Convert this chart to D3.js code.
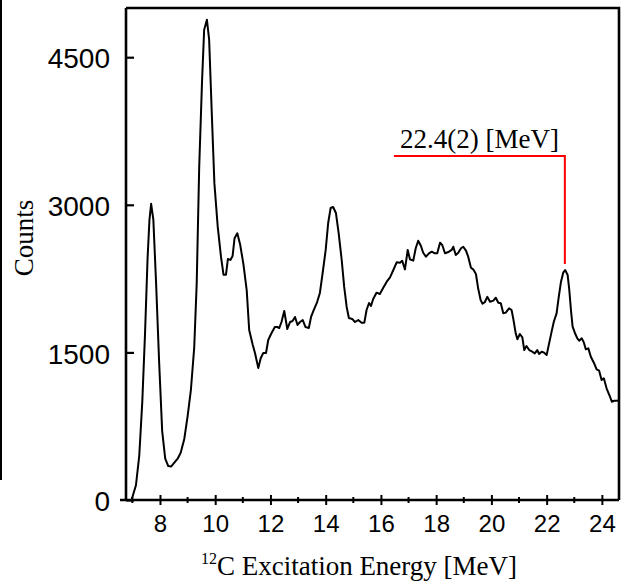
<!DOCTYPE html>
<html>
<head>
<meta charset="utf-8">
<script src="https://cdn.jsdelivr.net/npm/d3@7"></script>
<style>
    body { margin: 0; background: #fff; }
    svg { display: block; }
</style>
</head>
<body>
<svg></svg>
<script>
// excitation energy [MeV] and counts
let energy = [6.97, 7.13, 7.25, 7.36, 7.46, 7.55, 7.62, 7.68, 7.76, 7.86, 7.97, 8.08, 8.19, 8.30, 8.40,
    8.52, 8.64, 8.75, 8.88, 9.00, 9.12, 9.24, 9.33, 9.42, 9.52, 9.60, 9.70, 9.78, 9.88, 9.97,
    10.09, 10.21, 10.30, 10.39, 10.46, 10.55, 10.63, 10.70, 10.80, 10.90, 11.02, 11.14, 11.23, 11.36, 11.44,
    11.56, 11.65, 11.74, 11.84, 11.92, 12.04, 12.16, 12.25, 12.32, 12.40, 12.50, 12.61, 12.71, 12.80, 12.89,
    12.98, 13.07, 13.17, 13.27, 13.39, 13.47, 13.57, 13.69, 13.79, 13.89, 14.00, 14.09, 14.18, 14.27, 14.37,
    14.47, 14.58, 14.67, 14.76, 14.84, 14.96, 15.06, 15.18, 15.30, 15.40, 15.48, 15.57, 15.64, 15.72, 15.84,
    15.96, 16.08, 16.21, 16.33, 16.45, 16.57, 16.69, 16.77, 16.87, 16.97, 17.05, 17.17, 17.26, 17.35, 17.45,
    17.53, 17.63, 17.74, 17.84, 17.95, 18.04, 18.14, 18.22, 18.32, 18.44, 18.56, 18.62, 18.71, 18.80, 18.90,
    18.98, 19.08, 19.16, 19.26, 19.34, 19.44, 19.52, 19.61, 19.68, 19.76, 19.85, 19.95, 20.07, 20.16, 20.25,
    20.34, 20.43, 20.52, 20.64, 20.73, 20.79, 20.88, 20.94, 21.03, 21.12, 21.19, 21.27, 21.37, 21.48, 21.57,
    21.66, 21.73, 21.82, 21.91, 22.00, 22.09, 22.18, 22.26, 22.36, 22.44, 22.52, 22.60, 22.67, 22.76, 22.82,
    22.88, 22.94, 23.02, 23.11, 23.18, 23.27, 23.35, 23.42, 23.51, 23.60, 23.71, 23.81, 23.90, 23.99, 24.07,
    24.17, 24.27, 24.36, 24.45, 24.55, 24.62];
let counts = [0, 150, 450, 1000, 1700, 2450, 2850, 3010, 2850, 2200, 1400, 700, 420, 345, 340,
    380, 420, 480, 620, 850, 1120, 1550, 2200, 3380, 4230, 4780, 4880, 4680, 3900, 3220,
    2780, 2470, 2290, 2290, 2450, 2440, 2480, 2660, 2710, 2600, 2400, 2134, 1728, 1575, 1494,
    1342, 1443, 1494, 1494, 1626, 1697, 1758, 1758, 1748, 1809, 1921, 1738, 1809, 1819, 1860,
    1779, 1809, 1829, 1758, 1748, 1860, 1931, 2012, 2104, 2307, 2541, 2815, 2968, 2978, 2917,
    2713, 2439, 2165, 1962, 1850, 1840, 1809, 1829, 1802, 1802, 1931, 2002, 1972, 2043, 2107,
    2094, 2155, 2219, 2263, 2337, 2415, 2412, 2432, 2344, 2541, 2446, 2432, 2558, 2635, 2581,
    2513, 2473, 2507, 2524, 2507, 2507, 2615, 2592, 2507, 2520, 2541, 2574, 2490, 2513, 2558,
    2574, 2534, 2473, 2361, 2344, 2297, 2151, 2033, 1995, 2010, 2065, 2015, 2026, 2056, 2005,
    1999, 1897, 1904, 1948, 1931, 1846, 1694, 1633, 1687, 1653, 1524, 1565, 1524, 1507, 1490,
    1524, 1484, 1507, 1497, 1474, 1592, 1711, 1812, 1897, 2066, 2219, 2310, 2337, 2287, 2134,
    1931, 1761, 1700, 1643, 1619, 1643, 1599, 1531, 1541, 1456, 1395, 1328, 1314, 1220, 1237,
    1135, 1067, 999, 1009, 1009, 1015];

let xMajorTicks = [8, 10, 12, 14, 16, 18, 20, 22, 24];
let xMinorTicks = [7, 9, 11, 13, 15, 17, 19, 21, 23];
let yTicks = [0, 1500, 3000, 4500];

// annotated peak: label, marker energy, bracket start energy, bracket level
let peakLabel = "22.4(2) [MeV]";
let peakEnergy = 22.66;
let bracketStart = 16.47;
let bracketLevel = 3496;
let peakTop = 2398;

function drawSpectrum() {
    let width = 626;
    let height = 585;
    let left = 126, right = 619, top = 8, bottom = 500;

    let svg = d3.select("svg")
        .attr("width", width)
        .attr("height", height);

    let scaleX = d3.scaleLinear().domain([6.77, 24.62]).range([left, right]);
    let scaleY = d3.scaleLinear().domain([0, 5000]).range([bottom, top]);

    // stray edge line at the far left of the picture
    svg.append("line")
        .attr("x1", 1).attr("x2", 1).attr("y1", 0).attr("y2", 480)
        .attr("stroke", "#000").attr("stroke-width", 2);

    // top and right frame
    svg.append("path")
        .attr("d", `M${left},${top}H${right}V${bottom}`)
        .attr("fill", "none")
        .attr("stroke", "#000")
        .attr("stroke-width", 2.6);

    // x axis: major ticks with labels, crossing the axis line
    let axisX = d3.axisBottom(scaleX)
        .tickValues(xMajorTicks)
        .tickSize(5)
        .tickPadding(10);
    let gx = svg.append("g")
        .attr("transform", `translate(0, ${bottom})`)
        .call(axisX);
    gx.select(".domain")
        .attr("d", `M120,0H${right}`)
        .attr("stroke-width", 2.6);
    gx.selectAll(".tick line").attr("y1", -5).attr("stroke-width", 2);
    gx.selectAll(".tick text")
        .attr("font-family", "Liberation Sans, Arial, sans-serif")
        .attr("font-size", 24)
        .attr("fill", "#000");

    // minor x ticks
    svg.append("g")
        .selectAll("line")
        .data(xMinorTicks)
        .enter()
        .append("line")
        .attr("x1", d => scaleX(d)).attr("x2", d => scaleX(d))
        .attr("y1", bottom - 3).attr("y2", bottom + 3)
        .attr("stroke", "#000").attr("stroke-width", 2);

    // y axis
    let axisY = d3.axisLeft(scaleY)
        .tickValues(yTicks)
        .tickFormat(d3.format("d"))
        .tickSize(4)
        .tickPadding(12);
    let gy = svg.append("g")
        .attr("transform", `translate(${left}, 0)`)
        .call(axisY);
    gy.select(".domain")
        .attr("d", `M0,${top}V${bottom}`)
        .attr("stroke-width", 2.6);
    gy.selectAll(".tick line").attr("x2", 8).attr("stroke-width", 2.2);
    gy.selectAll(".tick text")
        .attr("font-family", "Liberation Sans, Arial, sans-serif")
        .attr("font-size", 28)
        .attr("dy", "0.38em")
        .attr("fill", "#000");

    // axis titles
    svg.append("text")
        .attr("transform", "translate(33, 238) rotate(-90)")
        .attr("text-anchor", "middle")
        .attr("font-family", "Liberation Serif, Times New Roman, serif")
        .attr("font-size", 27)
        .text("Counts");

    let xTitle = svg.append("text")
        .attr("x", 359)
        .attr("y", 575)
        .attr("text-anchor", "middle")
        .attr("font-family", "Liberation Serif, Times New Roman, serif")
        .attr("font-size", 27);
    xTitle.append("tspan")
        .attr("font-size", 16)
        .attr("dy", -11)
        .text("12");
    xTitle.append("tspan")
        .attr("dy", 11)
        .text("C Excitation Energy [MeV]");

    // spectrum
    let points = energy.map((e, i) => [e, counts[i]]);
    let line = d3.line()
        .x(d => scaleX(d[0]))
        .y(d => scaleY(d[1]));
    svg.append("path")
        .datum(points)
        .attr("d", line)
        .attr("fill", "none")
        .attr("stroke", "#000")
        .attr("stroke-width", 2)
        .attr("stroke-linejoin", "round");

    // peak marker
    svg.append("path")
        .attr("d", `M${scaleX(bracketStart)},${scaleY(bracketLevel)}H${scaleX(peakEnergy)}V${scaleY(peakTop)}`)
        .attr("fill", "none")
        .attr("stroke", "#ff0000")
        .attr("stroke-width", 2);
    svg.append("text")
        .attr("x", 400)
        .attr("y", 148)
        .attr("font-family", "Liberation Serif, Times New Roman, serif")
        .attr("font-size", 27)
        .text(peakLabel);
}

drawSpectrum();
</script>
</body>
</html>
